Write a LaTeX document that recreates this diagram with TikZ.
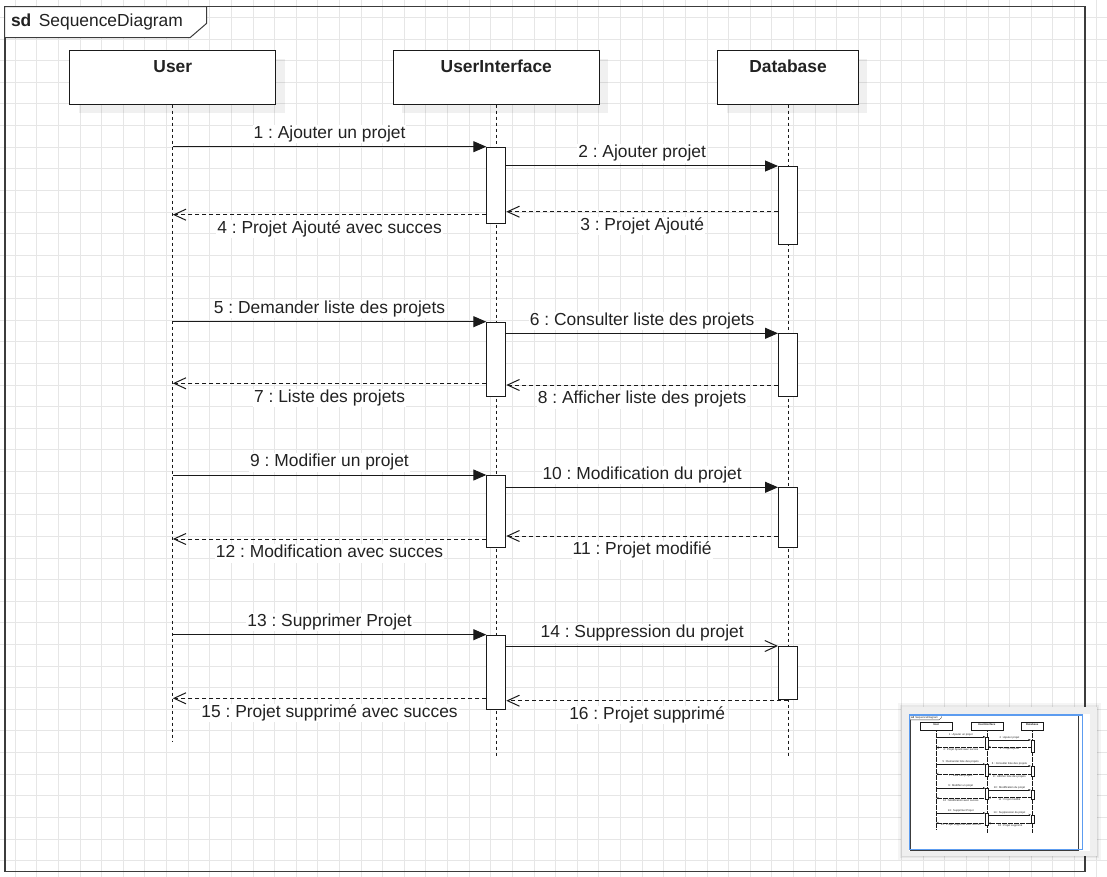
\documentclass[tikz,border=0pt]{standalone}
\usepackage{fontspec}
\setmainfont{Liberation Sans}
\usetikzlibrary{arrows.meta,shadows}
\frenchspacing

\definecolor{gridcol}{HTML}{E6E6E6}
\definecolor{framecol}{HTML}{3C3C3C}
\definecolor{inkcol}{HTML}{1A1A1A}
\definecolor{txtcol}{HTML}{222222}
\definecolor{viewblue}{HTML}{5C9CF0}
\definecolor{panelgray}{HTML}{EFEFEF}

\newcommand\seqfont{\fontsize{17.4pt}{20pt}\selectfont}
\newcommand\lw{1pt}

\tikzset{
  framebox/.style={draw=framecol, line width=1.6*\lw},
  tabbox/.style={draw=framecol, line width=\lw, fill=white},
  tablabel/.style={anchor=base west, inner sep=0pt, font=\seqfont, text=txtcol},
  boxshadow/.style={drop shadow={shadow xshift=9pt, shadow yshift=-9pt, fill=black, opacity=0.06}},
  lifebox/.style={boxshadow, draw=inkcol, line width=\lw, fill=white, anchor=north,
    inner sep=0pt, text height=22.7pt, text depth=31.3pt, font=\seqfont\bfseries, text=txtcol},
  lldash/.style={dash pattern=on 3pt off 3pt},
  msgdash/.style={dash pattern=on 4pt off 3pt},
  lifeline/.style={draw=inkcol, line width=\lw, lldash},
  actbar/.style={draw=inkcol, line width=\lw, fill=white, anchor=north, inner sep=0pt, minimum width=19pt},
  calltip/.tip={Triangle[length=13pt,width=11pt]},
  opentip/.tip={Straight Barb[length=12pt,width=11pt]},
  callmsg/.style={draw=inkcol, line width=\lw, -calltip},
  asyncmsg/.style={draw=inkcol, line width=\lw, -opentip},
  replymsg/.style={draw=inkcol, line width=\lw, msgdash, -opentip},
  msglabel/.style={font=\seqfont, text=txtcol, fill=white, inner sep=1pt, text height=12.5pt, text depth=3.6pt},
  abovemsg/.style={msglabel, midway, yshift=12.5pt},
  belowmsg/.style={msglabel, midway, yshift=-14.5pt},
}

% The whole sequence diagram (frame, lifelines, activations, messages)
\newcommand\seqbody{%
  \draw[framebox] (4.7,6.7) rectangle (1085,871.3);
  \draw[tabbox] (4.7,6.7) -- (206.7,6.7) -- (206.7,23.3) -- (190,37.7) -- (4.7,37.7) -- cycle;
  \node[tablabel] (tab) at (10.8,26.7) {{\bfseries sd}\hspace{7.5pt}SequenceDiagram};
  % lifeline heads
  \node[lifebox, minimum width=205.7pt] (user) at (172.8,49.7) {User};
  \node[lifebox, minimum width=205.7pt] (ui) at (496.3,49.7) {UserInterface};
  \node[lifebox, minimum width=140.6pt] (db) at (788,49.7) {Database};
  \coordinate (userend) at (172.8,742);
  \coordinate (uiend) at (496.3,758);
  \coordinate (dbend) at (788,758);
  \draw[lifeline] (user.south) -- (userend);
  \draw[lifeline] (ui.south) -- (uiend);
  \draw[lifeline] (db.south) -- (dbend);
  % activation bars
  \node[actbar, minimum height=76pt]   (ui1) at (496.3,146.7) {};
  \node[actbar, minimum height=78.3pt] (db1) at (788,166) {};
  \node[actbar, minimum height=74.3pt] (ui2) at (496.3,321.7) {};
  \node[actbar, minimum height=62.7pt] (db2) at (788,333.3) {};
  \node[actbar, minimum height=72.3pt] (ui3) at (496.3,475) {};
  \node[actbar, minimum height=60pt]   (db3) at (788,487.3) {};
  \node[actbar, minimum height=74.6pt] (ui4) at (496.3,634.7) {};
  \node[actbar, minimum height=52.7pt] (db4) at (788,646) {};
  % message anchors on the lifelines
  \coordinate (u1) at (172.8,146.7);
  \coordinate (r3) at (788,211.7);
  \coordinate (r4) at (172.8,214.7);
  \coordinate (u5) at (172.8,321.7);
  \coordinate (r7) at (172.8,383.3);
  \coordinate (r8) at (788,385);
  \coordinate (u9) at (172.8,475);
  \coordinate (r11) at (788,536);
  \coordinate (r12) at (172.8,539);
  \coordinate (u13) at (172.8,634.7);
  \coordinate (r15) at (172.8,698.3);
  \coordinate (r16) at (788,700.7);
  % add a project
  \draw[callmsg] (u1) -- node[abovemsg] {1 : Ajouter un projet} (ui1.north west);
  \draw[callmsg] (ui1.east |- db1.north) -- node[abovemsg] {2 : Ajouter projet} (db1.north west);
  \draw[replymsg] (db1.west |- r3) -- node[belowmsg] {3 : Projet Ajouté} (ui1.east |- r3);
  \draw[replymsg] (ui1.west |- r4) -- node[belowmsg] {4 : Projet Ajouté avec succes} (r4);
  % list projects
  \draw[callmsg] (u5) -- node[abovemsg] {5 : Demander liste des projets} (ui2.north west);
  \draw[callmsg] (ui2.east |- db2.north) -- node[abovemsg] {6 : Consulter liste des projets} (db2.north west);
  \draw[replymsg] (ui2.west |- r7) -- node[belowmsg] {7 : Liste des projets} (r7);
  \draw[replymsg] (db2.west |- r8) -- node[belowmsg] {8 : Afficher liste des projets} (ui2.east |- r8);
  % modify a project
  \draw[callmsg] (u9) -- node[abovemsg] {9 : Modifier un projet} (ui3.north west);
  \draw[callmsg] (ui3.east |- db3.north) -- node[abovemsg] {10 : Modification du projet} (db3.north west);
  \draw[replymsg] (db3.west |- r11) -- node[belowmsg] {11 : Projet modifié} (ui3.east |- r11);
  \draw[replymsg] (ui3.west |- r12) -- node[belowmsg] {12 : Modification avec succes} (r12);
  % delete a project
  \draw[callmsg] (u13) -- node[abovemsg] {13 : Supprimer Projet} (ui4.north west);
  \draw[asyncmsg] (ui4.east |- db4.north) -- node[abovemsg] {14 : Suppression du projet} (db4.north west);
  \draw[replymsg] (ui4.west |- r15) -- node[belowmsg] {15 : Projet supprimé avec succes} (r15);
  \draw[replymsg] (r16) -- node[belowmsg] {16 : Projet supprimé} (ui4.east |- r16);
}

\begin{document}
\begin{tikzpicture}[x=1pt, y=-1pt]
  \useasboundingbox (0,0) rectangle (1107,877);
  \fill[white] (0,0) rectangle (1107,877);
  % background grid
  \foreach \i in {0,...,50}
    \draw[gridcol, line width=0.8pt] ({15.1+21.62*\i},0) -- ({15.1+21.62*\i},877);
  \foreach \j in {0,...,40}
    \draw[gridcol, line width=0.8pt] (0,{17.4+21.62*\j}) -- (1107,{17.4+21.62*\j});

  \seqbody

  % outline panel
  \fill[black, opacity=0.04] (898,703) rectangle (1101,860);
  \fill[black, opacity=0.05] (900,705) rectangle (1099,858);
  \fill[black, opacity=0.06] (901.5,706.5) rectangle (1097.5,856.8);
  \fill[panelgray] (902.3,707.3) rectangle (1096.7,856);
  \fill[white] (909,714) rectangle (1090,851);
  \begin{scope}[shift={(909.3,714)}, scale=0.156, transform shape, name prefix=mini-,
      boxshadow/.style={},
      lldash/.style={dash pattern=on 0.6pt off 0.6pt},
      msgdash/.style={dash pattern=on 0.7pt off 0.5pt},
      calltip/.tip={Triangle[length=2.2pt,width=1.8pt]},
      opentip/.tip={Straight Barb[length=2pt,width=1.8pt]}]
    \renewcommand\lw{0.3pt}
    \seqbody
  \end{scope}
  \draw[viewblue, line width=1.5pt] (909.3,715) rectangle (1082.7,849.3);
\end{tikzpicture}
\end{document}
